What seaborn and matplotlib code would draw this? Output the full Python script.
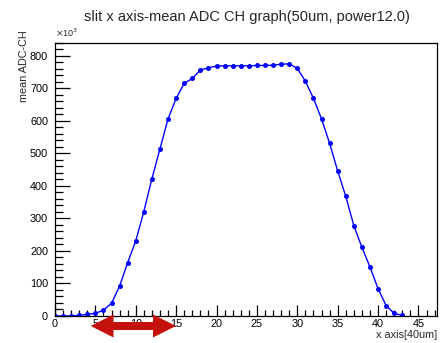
import numpy as np
import pandas as pd
import matplotlib
matplotlib.use("Agg")
import matplotlib.pyplot as plt
import seaborn as sns
from matplotlib.patches import Polygon
from matplotlib.ticker import MultipleLocator

# data (mean ADC in units of 10^3)
x_pos = list(range(0, 44))
mean_adc = [0, 0, 0, 2, 5, 8, 18, 39, 92, 164,
            231, 321, 422, 514, 606, 669, 715, 730, 756, 763,
            768, 769, 769, 769, 769, 770, 770, 771, 774, 775,
            761, 722, 669, 606, 531, 446, 368, 278, 211, 151,
            84, 32, 8, 2]
title = "slit x axis-mean ADC CH graph(50um, power12.0)"
xlabel = "x axis[40um]"
ylabel = "mean ADC-CH"

df = pd.DataFrame({"x": x_pos, "y": mean_adc})

sns.set_style("white")
plt.rcParams['font.family'] = ['Liberation Sans', 'DejaVu Sans']

W, H = 447, 343
fig = plt.figure(figsize=(W / 100, H / 100), dpi=100)
L, R, T, B = 55, 437, 42.7, 316
ax = fig.add_axes([L / W, 1 - B / H, (R - L) / W, (B - T) / H])

sns.lineplot(data=df, x="x", y="y", ax=ax, color="#0000ff", lw=1.0,
             marker="o", markersize=3.6, markeredgewidth=0, markerfacecolor="#0000ff")

ax.set_xlim(0, 47.3)
ax.set_ylim(0, 840)
ax.xaxis.set_major_locator(MultipleLocator(5))
ax.xaxis.set_minor_locator(MultipleLocator(1))
ax.yaxis.set_major_locator(MultipleLocator(100))
ax.yaxis.set_minor_locator(MultipleLocator(20))
ax.tick_params(which="both", direction="in", bottom=True, left=True, top=False, right=False,
               colors="black", labelsize=7.8, width=0.9)
ax.tick_params(axis="x", which="major", length=8, pad=2)
ax.tick_params(axis="x", which="minor", length=4)
ax.tick_params(axis="y", which="major", length=11, pad=5)
ax.tick_params(axis="y", which="minor", length=5.5)
for s in ax.spines.values():
    s.set_color("black")
    s.set_linewidth(0.9)
ax.set_xlabel("")
ax.set_ylabel("")

fig.text(247 / W, 1 - 17 / H, title, ha="center", va="center", fontsize=10.5)
fig.text(R / W, 1 - 335 / H, xlabel, ha="right", va="center", fontsize=7.8)
fig.text(24 / W, 1 - 30 / H, ylabel, ha="center", va="top", rotation=90, fontsize=7.8)
fig.text(L / W, 1 - 33 / H, r"$\times$10$^{3}$", ha="left", va="center", fontsize=6.5)

# red double-headed arrow annotation
pts = [(90.7, 326), (113.5, 314.5), (113.5, 322), (153, 322), (153, 314.5),
       (176, 326), (153, 337.5), (153, 330), (113.5, 330), (113.5, 337.5)]
poly = Polygon([(px / W, 1 - py / H) for px, py in pts], closed=True,
               transform=fig.transFigure, facecolor="#c4110c", edgecolor="none", zorder=10)
fig.patches.append(poly)

fig.savefig("out.png", dpi=100, facecolor="white")
